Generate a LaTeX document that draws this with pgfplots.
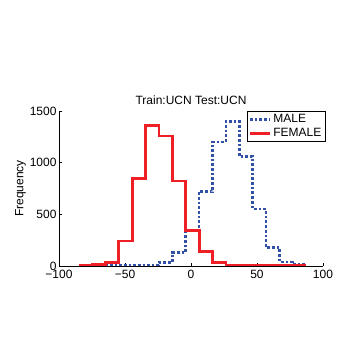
\documentclass[border=0pt]{standalone}
\usepackage{fontspec}
\setmainfont{Liberation Sans}
\usepackage{pgfplots}
\pgfplotsset{compat=1.18}
\definecolor{maleblue}{RGB}{50,80,165}
\definecolor{femred}{RGB}{238,32,38}
\begin{document}
\begin{tikzpicture}
\path[use as bounding box] (0,0) rectangle (362bp,362bp);
\begin{axis}[
  scale only axis,
  width=264bp, height=155bp,
  at={(59bp,96bp)}, anchor=south west,
  xmin=-100, xmax=100, ymin=0, ymax=1500,
  axis x line*=bottom, axis y line*=left,
  axis line style={-, line width=0.6bp},
  xtick={-100,-50,0,50,100},
  xticklabels={−100,−50,0,50,100},
  ytick={0,500,1000,1500},
  yticklabels={0,500,1000,1500},
  tick align=inside, major tick length=3bp,
  tick style={black, line width=0.5bp},
  ticklabel style={font=\fontsize{12bp}{14bp}\selectfont},
  xticklabel style={yshift=-1bp},
  yticklabel style={xshift=1bp},
  title={Train:UCN Test:UCN},
  title style={font=\fontsize{12bp}{14bp}\selectfont, yshift=-3bp},
  ylabel={Frequency},
  ylabel style={font=\fontsize{12bp}{14bp}\selectfont, yshift=-3bp},
  legend style={at={(1.008,1)}, anchor=north east, draw=black, line width=0.5bp,
    font=\fontsize{12bp}{14bp}\selectfont, inner sep=1.5bp, row sep=0bp,
    legend cell align=left},
  legend image code/.code={\draw[#1] (0bp,0bp) -- (20bp,0bp);},
]
\addplot[const plot, color=maleblue, line width=2.5bp, dash pattern=on 2.7bp off 2bp] coordinates {
(-64.9,3) (-54.75,5) (-44.6,6) (-34.45,10) (-24.3,35) (-14.15,130) (-4.0,340)
(6.15,720) (16.3,1200) (26.45,1400) (36.6,1060) (46.75,550) (56.9,180)
(67.05,40) (77.2,20) (87.35,20)
};
\addlegendentry{MALE}
\addplot[const plot, color=femred, line width=2.8bp] coordinates {
(-85.2,8) (-75.05,12) (-64.9,35) (-54.75,242) (-44.6,848) (-34.45,1358)
(-24.3,1258) (-14.15,823) (-4.0,345) (6.15,139) (16.3,32) (26.45,10)
(36.6,6) (46.75,4) (56.9,3) (67.05,2) (77.2,2) (87.35,2)
};
\addlegendentry{FEMALE}
\end{axis}
\end{tikzpicture}
\end{document}
